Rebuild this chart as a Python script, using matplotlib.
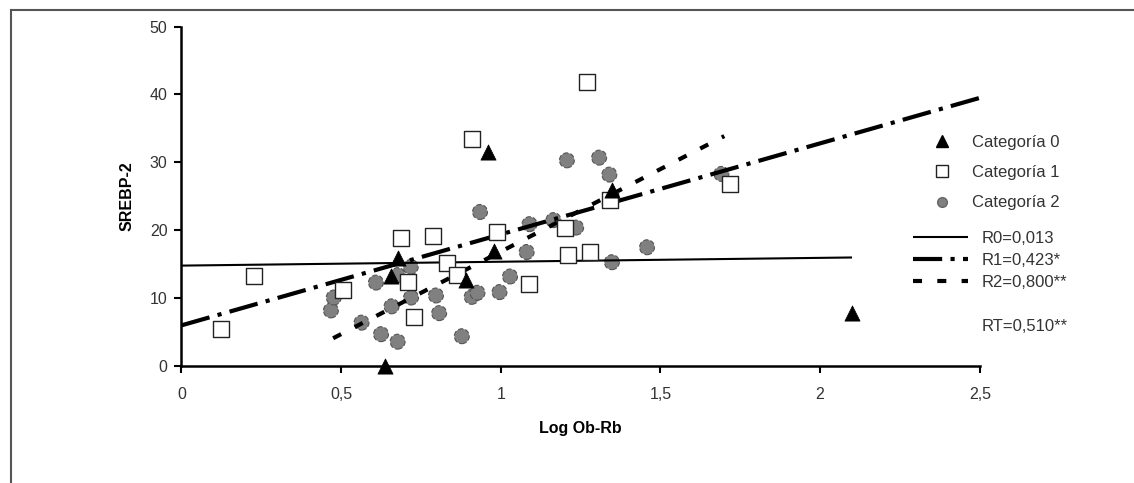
import numpy as np
import matplotlib
matplotlib.use('Agg')
import matplotlib.pyplot as plt
from matplotlib.lines import Line2D

plt.rcParams['font.family'] = ['Liberation Sans', 'DejaVu Sans']
plt.rcParams['lines.scale_dashes'] = False

# --- DATA ---
cat0_x = [0.637, 0.656, 0.677, 0.891, 0.961, 0.98, 1.348, 2.10]
cat0_y = [0.0, 13.2, 15.9, 12.7, 31.6, 17.0, 25.9, 7.8]

cat1_x = [0.125, 0.228, 0.507, 0.687, 0.709, 0.729, 0.789, 0.831, 0.864,
          0.909, 0.987, 1.088, 1.20, 1.212, 1.270, 1.280, 1.343, 1.719]
cat1_y = [5.5, 13.2, 11.2, 18.9, 12.4, 7.2, 19.1, 15.2, 13.4,
          33.4, 19.7, 12.1, 20.4, 16.3, 41.9, 16.8, 24.5, 26.8]

cat2_x = [0.468, 0.477, 0.564, 0.609, 0.625, 0.658, 0.677, 0.677, 0.718, 0.719,
          0.797, 0.807, 0.878, 0.909, 0.927, 0.935, 0.996, 1.029, 1.081, 1.090,
          1.165, 1.207, 1.236, 1.308, 1.340, 1.348, 1.458, 1.691]
cat2_y = [8.2, 10.1, 6.4, 12.3, 4.7, 8.8, 13.4, 3.6, 14.6, 10.1,
          10.4, 7.8, 4.4, 10.2, 10.8, 22.7, 10.9, 13.2, 16.8, 20.9,
          21.5, 30.3, 20.4, 30.7, 28.2, 15.3, 17.5, 28.3]

cat_labels = ['Categoría 0', 'Categoría 1', 'Categoría 2']

# trend lines: y = slope * x + intercept, drawn over [xmin, xmax]
trend_labels = ['R0=0,013', 'R1=0,423*', 'R2=0,800**']
trend_slope = [0.57, 13.4, 24.3]
trend_intercept = [14.8, 6.0, -7.44]
trend_xmin = [0.0, 0.0, 0.475]
trend_xmax = [2.10, 2.5, 1.70]
rt_label = 'RT=0,510**'

x_ticks = [0, 0.5, 1, 1.5, 2, 2.5]
x_ticklabels = ['0', '0,5', '1', '1,5', '2', '2,5']
y_ticks = [0, 10, 20, 30, 40, 50]

# --- PLOT ---
fig = plt.figure(figsize=(11.34, 4.83), dpi=100)
ax = fig.add_axes([0.160, 0.242, 0.704, 0.703])

trend_styles = [
    dict(color='black', linewidth=1.5, linestyle='-'),
    dict(color='black', linewidth=3.0, linestyle=(0, (21, 6, 3, 6))),
    dict(color='black', linewidth=3.0, linestyle=(0, (6.5, 11))),
]
trend_handles = []
for i in range(3):
    xs = np.array([trend_xmin[i], trend_xmax[i]])
    ys = trend_slope[i] * xs + trend_intercept[i]
    h, = ax.plot(xs, ys, zorder=3, solid_capstyle='butt',
                 dash_capstyle='butt', **trend_styles[i])
    trend_handles.append(h)

ax.scatter(cat2_x, cat2_y, s=115, marker='o', facecolor='#808080',
           edgecolor='#555555', linewidth=0.8, linestyle='--', zorder=2)
ax.scatter(cat1_x, cat1_y, s=130, marker='s', facecolor='white',
           edgecolor='#222222', linewidth=1.0, zorder=4)
ax.scatter(cat0_x, cat0_y, s=120, marker='^', facecolor='black',
           edgecolor='black', linewidth=0.5, zorder=5, clip_on=False)

ax.set_xlim(0, 2.5)
ax.set_ylim(0, 50)
ax.set_xticks(x_ticks)
ax.set_xticklabels(x_ticklabels)
ax.set_yticks(y_ticks)
ax.tick_params(direction='out', length=5, width=1.5, labelsize=11.5,
               labelcolor='#333333', pad=5)
ax.tick_params(axis='x', pad=10)
for side in ['top', 'right']:
    ax.spines[side].set_visible(False)
for side in ['left', 'bottom']:
    ax.spines[side].set_linewidth(1.8)
ax.set_xlabel('Log Ob-Rb', fontsize=11.5, fontweight='bold', labelpad=14)
ax.set_ylabel('SREBP-2', fontsize=11.5, fontweight='bold', labelpad=11)

# legends
cat_handles = [
    Line2D([], [], marker='^', color='black', linestyle='none', markersize=8),
    Line2D([], [], marker='s', markerfacecolor='white', markeredgecolor='#222222',
           linestyle='none', markersize=8),
    Line2D([], [], marker='o', markerfacecolor='#808080', markeredgecolor='#666666',
           linestyle='none', markersize=7),
]
leg1 = fig.legend(cat_handles, cat_labels, loc='upper left',
                  bbox_to_anchor=(0.809, 0.752), frameon=False, fontsize=12,
                  labelspacing=0.92, handlelength=1.2, handletextpad=1.2,
                  labelcolor='#333333')
blank = Line2D([], [], linestyle='none')
leg2 = fig.legend(trend_handles + [blank, blank],
                  trend_labels + ['', rt_label], loc='upper left',
                  bbox_to_anchor=(0.792, 0.553), frameon=False, fontsize=12,
                  labelspacing=0.42, handlelength=3.3, handletextpad=0.8,
                  labelcolor='#333333')

# outer frame of the original figure (only left and top edges visible)
fig.add_artist(Line2D([11 / 1134, 11 / 1134], [0, 1 - 10 / 483],
                      transform=fig.transFigure, color='#555555', linewidth=1.5))
fig.add_artist(Line2D([11 / 1134, 1], [1 - 10 / 483, 1 - 10 / 483],
                      transform=fig.transFigure, color='#555555', linewidth=1.5))

fig.savefig('out.png', dpi=100)
